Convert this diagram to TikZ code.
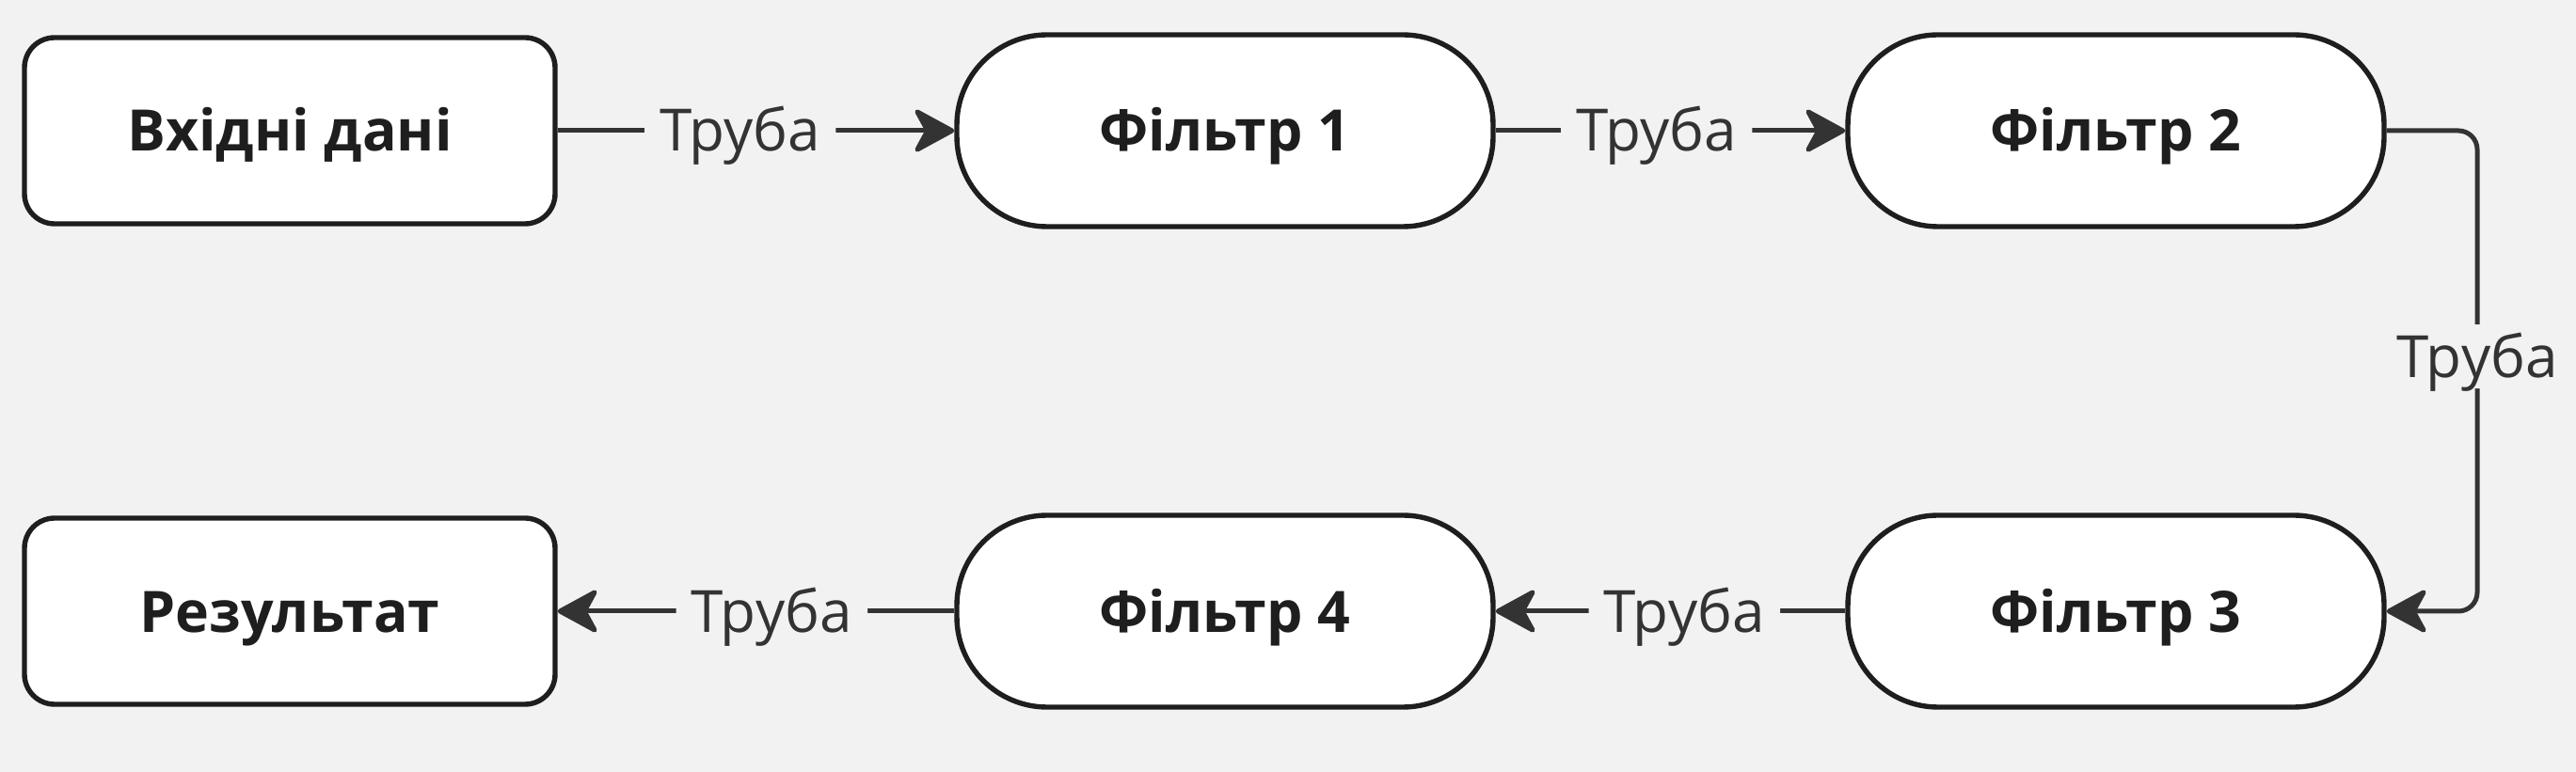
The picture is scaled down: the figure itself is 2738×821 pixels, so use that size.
\documentclass[tikz,border=0pt]{standalone}
\usepackage{fontspec}
\setmainfont{Open Sans}
\usetikzlibrary{arrows.meta}

\definecolor{pagebg}{HTML}{F2F2F2}
\definecolor{edgeclr}{HTML}{1E1E1E}
\definecolor{pipeclr}{HTML}{333333}

\tikzset{every picture/.style={line width=0.75pt}}
\tikzset{
  databox/.style={draw=edgeclr, fill=white, line width=1.35pt, rounded corners=8pt,
    minimum width=141pt, minimum height=49.5pt, inner sep=0pt,
    text height=11pt, text depth=0pt,
    font=\fontsize{15.2}{18}\selectfont\bfseries, text=edgeclr},
  filterbox/.style={draw=edgeclr, fill=white, line width=1.35pt, rounded corners=24pt,
    minimum width=142.5pt, minimum height=51pt, inner sep=0pt,
    text height=11pt, text depth=0pt,
    font=\fontsize{15.2}{18}\selectfont\bfseries, text=edgeclr},
  pipe/.style={draw=pipeclr, line width=1.25pt, rounded corners=5pt,
    -{Stealth[length=12pt, width=13pt, inset=3.5pt, round]}},
  pipelabel/.style={fill=pagebg, inner xsep=4pt, inner ysep=3pt, pos=0.46,
    text height=11pt, text depth=0pt,
    font=\fontsize{15.5}{18}\selectfont, text=pipeclr}
}

\begin{document}
\begin{tikzpicture}[x=0.25pt,y=0.25pt,yscale=-1,xscale=1]
%background, sets the size of the page
\path[fill=pagebg] (0,0) rectangle (2738,821);

%Flowchart: Terminal
\node[databox] (input) at (308,139) {Вхідні дані};
\node[filterbox] (flt1) at (1302,139) {Фільтр 1};
\node[filterbox] (flt2) at (2249,139) {Фільтр 2};
\node[filterbox] (flt3) at (2249,650) {Фільтр 3};
\node[filterbox] (flt4) at (1302,650) {Фільтр 4};
\node[databox] (result) at (308,650) {Результат};

%bend points of the right pipe
\coordinate (bendA) at (2633,139);
\coordinate (bendB) at (2633,650);

%Pipes
\draw[pipe] (input.east) -- node[pipelabel] {Труба} (flt1.west);
\draw[pipe] (flt1.east) -- node[pipelabel] {Труба} (flt2.west);
\draw[pipe] (flt2.east) -- (bendA) -- node[pipelabel, pos=0.47] {Труба} (bendB) -- (flt3.east);
\draw[pipe] (flt3.west) -- node[pipelabel] {Труба} (flt4.east);
\draw[pipe] (flt4.west) -- node[pipelabel] {Труба} (result.east);

\end{tikzpicture}
\end{document}
